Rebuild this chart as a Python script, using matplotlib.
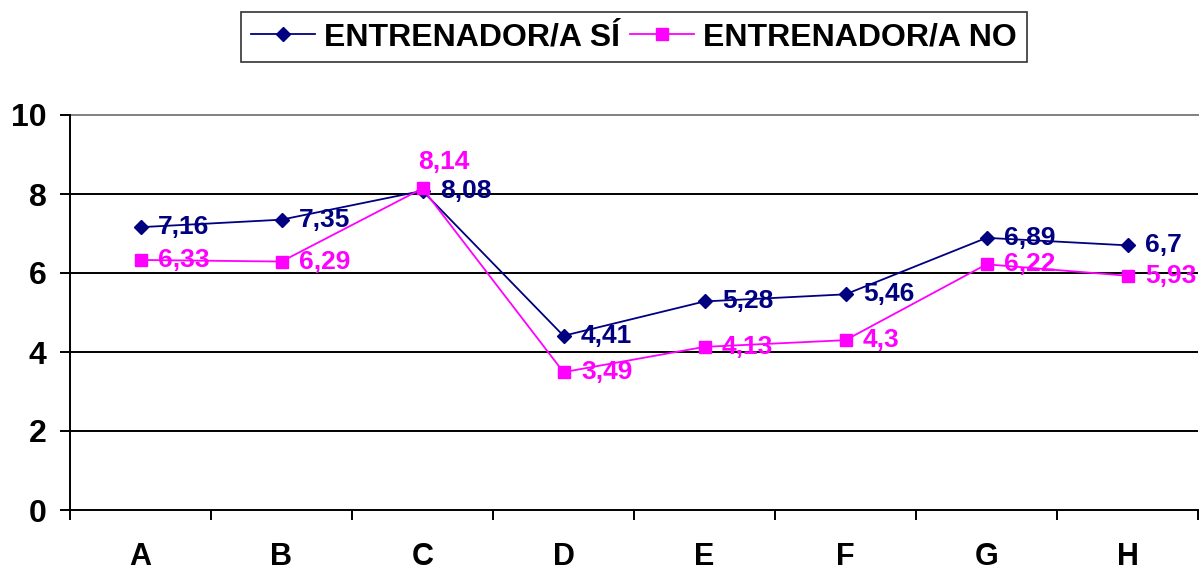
import matplotlib
matplotlib.use("Agg")
import matplotlib.pyplot as plt

plt.rcParams['font.family'] = ['Liberation Sans', 'DejaVu Sans']

categories = ['A', 'B', 'C', 'D', 'E', 'F', 'G', 'H']
si_vals = [7.16, 7.35, 8.08, 4.41, 5.28, 5.46, 6.89, 6.7]
no_vals = [6.33, 6.29, 8.14, 3.49, 4.13, 4.3, 6.22, 5.93]
si_labels = ['7,16', '7,35', '8,08', '4,41', '5,28', '5,46', '6,89', '6,7']
no_labels = ['6,33', '6,29', '8,14', '3,49', '4,13', '4,3', '6,22', '5,93']

navy = '#000080'
pink = '#FF00FF'

fig = plt.figure(figsize=(11.99, 5.71), dpi=100)
ax = fig.add_axes([70 / 1199, 61 / 571, 1128 / 1199, 395 / 571])

x = list(range(len(categories)))
ax.plot(x, si_vals, color=navy, lw=1.3, marker='D', ms=7.5, label='ENTRENADOR/A SÍ', zorder=3, clip_on=False)
ax.plot(x, no_vals, color=pink, lw=1.3, marker='s', ms=8, label='ENTRENADOR/A NO', zorder=4, clip_on=False)

for i, (v, t) in enumerate(zip(si_vals, si_labels)):
    ax.annotate(t, (i, v), xytext=(12.5, 0), textcoords='offset points', ha='left', va='center',
                fontsize=19, fontweight='bold', color=navy, zorder=5, annotation_clip=False)
for i, (v, t) in enumerate(zip(no_vals, no_labels)):
    if i == 2:
        # this one sits above its point
        ax.annotate(t, (i, v), xytext=(15, 19), textcoords='offset points', ha='center', va='center',
                    fontsize=19, fontweight='bold', color=pink, zorder=6, annotation_clip=False)
    else:
        ax.annotate(t, (i, v), xytext=(12.5, 0), textcoords='offset points', ha='left', va='center',
                    fontsize=19, fontweight='bold', color=pink, zorder=6, annotation_clip=False)

ax.set_xlim(-0.5, len(categories) - 0.5)
ax.set_ylim(0, 10)
ax.set_yticks([0, 2, 4, 6, 8, 10])
ax.set_yticklabels(['0', '2', '4', '6', '8', '10'], fontsize=23, fontweight='bold')
for y in [2, 4, 6, 8]:
    ax.axhline(y, color='black', lw=1.4, zorder=1)
ax.axhline(10, color='#808080', lw=1.4, zorder=1, clip_on=False)

ax.set_xticks([i + 0.5 for i in range(-1, len(categories))])
ax.set_xticklabels([])
ax.set_xticks(x, minor=True)
ax.set_xticklabels(categories, minor=True, fontsize=22, fontweight='bold')
ax.tick_params(axis='x', which='minor', length=0, pad=23)
ax.tick_params(axis='x', which='major', length=7, width=1.4, direction='out')
ax.tick_params(axis='y', length=7, width=1.4, direction='out', pad=10)

for s in ['top', 'right']:
    ax.spines[s].set_visible(False)
for s in ['left', 'bottom']:
    ax.spines[s].set_linewidth(1.4)

leg = fig.legend(loc='center', bbox_to_anchor=(634 / 1199, 1 - 37 / 571), ncol=2, frameon=True,
                 prop={'weight': 'bold', 'size': 23},
                 fancybox=False, edgecolor='black', handlelength=2.0, handletextpad=0.3,
                 columnspacing=0.3, borderpad=0.3, borderaxespad=0)
leg.get_frame().set_linewidth(1.2)

fig.savefig('out.png', dpi=100)
